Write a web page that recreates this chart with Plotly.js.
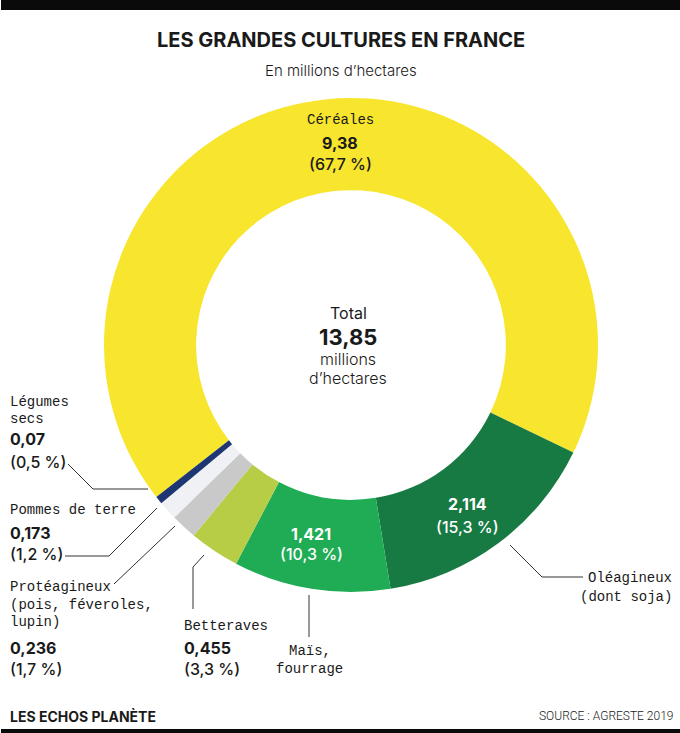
<!DOCTYPE html>
<html>
<head>
<meta charset="utf-8">
<script src="https://cdn.plot.ly/plotly-3.0.1.min.js"></script>
<style>
html,body{margin:0;padding:0;background:#fff;}
#chart{width:680px;height:733px;}
</style>
</head>
<body>
<div id="chart"></div>
<script>
// ---- data ----
const categories = ["Céréales", "Oléagineux", "Maïs, fourrage", "Betteraves", "Protéagineux", "Pommes de terre", "Légumes secs"];
const values = [9.38, 2.114, 1.421, 0.455, 0.236, 0.173, 0.07];
const shares = [67.7, 15.3, 10.3, 3.3, 1.7, 1.2, 0.5];
const labelLines = [["Céréales"], ["Oléagineux", "(dont soja)"], ["Maïs,", "fourrage"], ["Betteraves"], ["Protéagineux", "(pois, féveroles,", "lupin)"], ["Pommes de terre"], ["Légumes", "secs"]];
const total = "13,85";
const sliceColors = ["#f7e52e", "#177a43", "#1fac55", "#b8cd46", "#c9c9c9", "#eff1f5", "#1e3672"];

// ---- helpers ----
const W = 680, H = 733;
const px = x => x / W;
const py = y => 1 - y / H;
const fmtV = v => String(v).replace('.', ',');
const fmtP = p => '(' + String(p).replace('.', ',') + ' %)';

const MONO = '"Courier New", "Liberation Mono", monospace';
const SANS = 'Inter, Roboto, "Noto Sans", sans-serif';
const DARK = '#1a1a1a';

const annotations = [];
function ann(x, y, text, o) {
  o = o || {};
  annotations.push({
    xref: 'paper', yref: 'paper', x: px(x), y: py(y), text: text, showarrow: false,
    xanchor: o.xa || 'center', yanchor: 'middle',
    font: {family: o.family || SANS, size: o.size || 16, color: o.color || DARK, weight: o.weight || 400}
  });
}
const shapes = [];
function line(pts) {
  let d = pts.map((p, i) => (i ? 'L' : 'M') + px(p[0]) + ',' + py(p[1])).join(' ');
  shapes.push({type: 'path', xref: 'paper', yref: 'paper', path: d, line: {color: '#333', width: 1}});
}
function rect(x0, y0, x1, y1) {
  shapes.push({type: 'rect', xref: 'paper', yref: 'paper', x0: px(x0), x1: px(x1), y0: py(y0), y1: py(y1), fillcolor: '#0a0a0a', line: {width: 0}, layer: 'below'});
}

// ---- texts ----
ann(341, 40, 'LES GRANDES CULTURES EN FRANCE', {size: 20, weight: 700});
ann(341, 70, 'En millions d’hectares', {size: 15, weight: 300});

// centre
ann(348, 313, 'Total', {size: 16});
ann(348, 337, total, {size: 22, weight: 700});
ann(348, 359, 'millions', {size: 16, weight: 300});
ann(348, 378, 'd’hectares', {size: 16, weight: 300});

// Céréales (inside)
ann(340, 120, labelLines[0][0], {family: MONO, size: 14});
ann(340, 143, fmtV(values[0]), {size: 16, weight: 700});
ann(340, 164, fmtP(shares[0]), {size: 16, weight: 500});

// Oléagineux (inside values, outside name)
ann(467, 504, fmtV(values[1]), {size: 16, weight: 700, color: '#fff'});
ann(467, 527, fmtP(shares[1]), {size: 16, weight: 500, color: '#fff'});
ann(674, 578, labelLines[1][0], {family: MONO, size: 14, xa: 'right'});
ann(674, 597, labelLines[1][1], {family: MONO, size: 14, xa: 'right'});
line([[510, 545], [542, 577], [583, 577]]);

// Maïs (inside values, outside name)
ann(311, 534, fmtV(values[2]), {size: 16, weight: 700, color: '#fff'});
ann(311, 554, fmtP(shares[2]), {size: 16, weight: 500, color: '#fff'});
ann(310, 651, labelLines[2][0], {family: MONO, size: 14});
ann(309, 669, labelLines[2][1], {family: MONO, size: 14});
line([[309, 595], [309, 637]]);

// Betteraves
ann(182, 626, labelLines[3][0], {family: MONO, size: 14, xa: 'left'});
ann(182, 648, fmtV(values[3]), {size: 16, weight: 700, xa: 'left'});
ann(182, 669, fmtP(shares[3]), {size: 16, weight: 500, xa: 'left'});
line([[204, 555], [193, 567], [193, 609]]);

// Protéagineux
ann(8, 587, labelLines[4][0], {family: MONO, size: 14, xa: 'left'});
ann(8, 605, labelLines[4][1], {family: MONO, size: 14, xa: 'left'});
ann(8, 622, labelLines[4][2], {family: MONO, size: 14, xa: 'left'});
ann(8, 648, fmtV(values[4]), {size: 16, weight: 700, xa: 'left'});
ann(8, 669, fmtP(shares[4]), {size: 16, weight: 500, xa: 'left'});
line([[175, 526], [114, 584]]);

// Pommes de terre
ann(8, 510, labelLines[5][0], {family: MONO, size: 14, xa: 'left'});
ann(8, 533, fmtV(values[5]), {size: 16, weight: 700, xa: 'left'});
ann(8, 554, fmtP(shares[5]), {size: 16, weight: 500, xa: 'left'});
line([[157, 508], [109, 556], [65, 556]]);

// Légumes secs
ann(8, 402, labelLines[6][0], {family: MONO, size: 14, xa: 'left'});
ann(8, 419, labelLines[6][1], {family: MONO, size: 14, xa: 'left'});
ann(8, 439, fmtV(values[6]), {size: 16, weight: 700, xa: 'left'});
ann(8, 462, fmtP(shares[6]), {size: 16, weight: 500, xa: 'left'});
line([[68, 464], [93, 489], [148, 489]]);

// footer
ann(8, 716, 'LES ECHOS PLANÈTE', {size: 14, weight: 700, xa: 'left'});
ann(676, 716, 'SOURCE : AGRESTE 2019', {size: 12, weight: 300, xa: 'right', family: 'Roboto, Inter, sans-serif'});

// black bars
rect(1, 0, 680, 10);
rect(1, 729, 680, 733);

// ---- pie ----
const cx = 351, cy = 345, R = 247;
const trace = {
  type: 'pie',
  labels: categories,
  values: values,
  hole: 0.627,
  sort: false,
  direction: 'clockwise',
  rotation: -128,
  textinfo: 'none',
  hoverinfo: 'none',
  showlegend: false,
  marker: {colors: sliceColors, line: {width: 0}},
  domain: {x: [px(cx - R), px(cx + R)], y: [py(cy + R), py(cy - R)]}
};

Plotly.newPlot('chart', [trace], {
  width: W, height: H,
  margin: {l: 0, r: 0, t: 0, b: 0},
  paper_bgcolor: '#fff',
  showlegend: false,
  annotations: annotations,
  shapes: shapes
}, {staticPlot: true});
</script>
</body>
</html>
